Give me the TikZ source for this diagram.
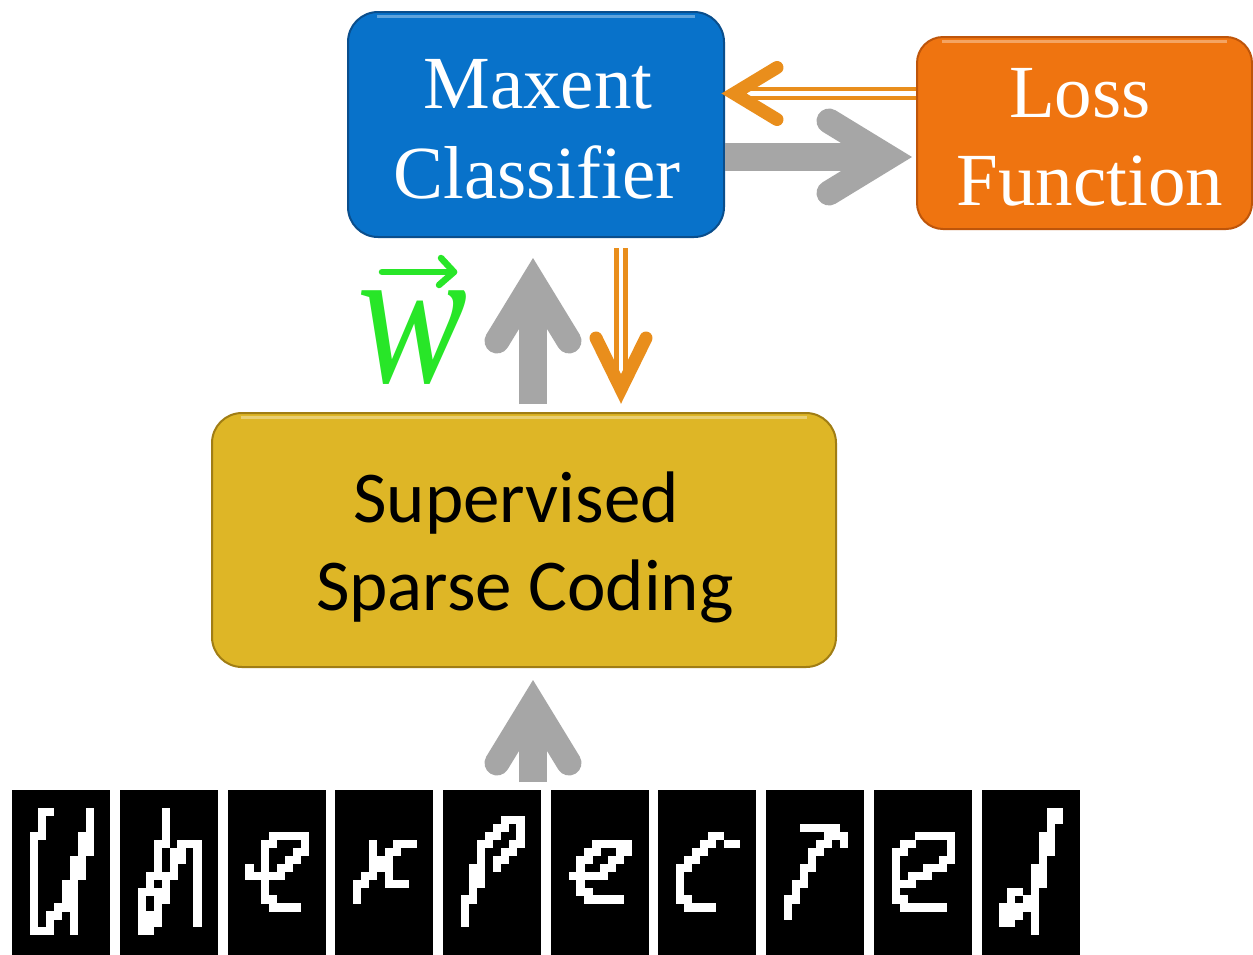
\documentclass[tikz,border=0pt]{standalone}
\usepackage{fontspec}
\usepackage{graphicx}
\usetikzlibrary{calc}
\newfontfamily\timesf{Liberation Serif}
\newfontfamily\calf{Carlito}
\definecolor{boxblue}{RGB}{8,114,202}
\definecolor{boxblueD}{RGB}{10,78,140}
\definecolor{boxorange}{RGB}{239,116,16}
\definecolor{boxorangeD}{RGB}{190,85,10}
\definecolor{boxgold}{RGB}{222,182,38}
\definecolor{boxgoldD}{RGB}{160,125,20}
\definecolor{arrgray}{RGB}{166,166,166}
\definecolor{arrorange}{RGB}{233,142,28}
\definecolor{wgreen}{RGB}{40,230,40}
\tikzset{
  procbox/.style={rectangle, rounded corners=30pt, line width=2pt, inner sep=0pt},
  letterbox/.style={rectangle, fill=black, anchor=north west, minimum width=98pt, minimum height=166pt, inner sep=0pt},
  gshaft/.style={draw=arrgray, line width=28pt},
  ghead/.style={draw=arrgray, line width=25pt, line cap=round, line join=miter},
  oshaft/.style={draw=arrorange, line width=4.5pt, double=white, double distance=4.5pt},
  ohead/.style={draw=arrorange, line width=13pt, line cap=round, line join=miter},
  vecarrow/.style={draw=wgreen, line width=6.5pt, line cap=round, line join=round},
  serifw/.style={text=white, font=\timesf\fontsize{75}{75}\selectfont, anchor=base, inner sep=0pt},
  sansb/.style={text=black, font=\calf\fontsize{73}{73}\selectfont, anchor=base, inner sep=0pt},
}
\newcommand\glyph[2]{%
  \foreach \grw [count=\gr from 0] in {#2} {
    \foreach \gc in \grw {
      \ifnum\gc<8
        \fill[white] ({30+107.7*#1+7.95*\gc},{808+7.95*\gr}) rectangle ++(8.15,8.15);
      \fi
    }
  }%
}
\begin{document}
\begin{tikzpicture}[x=1pt,y=-1pt]
\useasboundingbox (0,0) rectangle (1253,954);
\fill[white] (0,0) rectangle (1253,954);

% boxes
\node[procbox, fill=boxblue, draw=boxblueD, minimum width=376pt, minimum height=225pt] (maxent) at (536,124.5) {};
\node[procbox, fill=boxorange, draw=boxorangeD, rounded corners=26pt, minimum width=335pt, minimum height=192pt] (loss) at (1084.5,133) {};
\node[procbox, fill=boxgold, draw=boxgoldD, minimum width=624pt, minimum height=254pt] (sparse) at (524,540) {};

% top highlights
\draw[white, opacity=0.35, line width=3pt] ($(maxent.north west)+(30,5)$) -- ($(maxent.north east)+(-30,5)$);
\draw[white, opacity=0.35, line width=3pt] ($(loss.north west)+(26,5)$) -- ($(loss.north east)+(-26,5)$);
\draw[white, opacity=0.35, line width=3pt] ($(sparse.north west)+(30,5)$) -- ($(sparse.north east)+(-30,5)$);

% texts
\node[serifw] (t1) at (538,108) {Maxent};
\node[serifw] (t2) at (537,198) {Classifier};
\node[serifw] (t3) at (1080,117) {Loss};
\node[serifw] (t4) at (1090,205) {Function};
\node[sansb] (t5) at (516,522) {Supervised};
\node[sansb] (t6) at (525,610) {Sparse Coding};

% weight vector label
\node[anchor=base, text=wgreen, inner sep=0pt] (wvec) at (413,382) {\scalebox{16.5}[20]{\timesf\itshape w}};
\coordinate (wa) at ($(wvec.north)+(-31,-18)$);
\coordinate (wb) at ($(wvec.north)+(41,-18)$);
\draw[vecarrow] (wa) -- (wb);
\draw[vecarrow] ($(wb)+(-13,-14)$) -- (wb) -- ($(wb)+(-15,13)$);

% gray arrow maxent -> loss
\coordinate (gR) at ($(loss.west)+(-4,24)$);
\draw[gshaft] (maxent.east |- gR) -- ($(gR)+(-24,0)$);
\draw[ghead] ($(gR)+(-83,-36)$) -- ($(gR)+(-24,0)$) -- ($(gR)+(-83,36)$);

% orange arrow loss -> maxent
\coordinate (oL) at ($(maxent.east)+(-4,-31)$);
\draw[oshaft] (loss.west |- oL) -- ($(oL)+(12,0)$);
\draw[ohead] ($(oL)+(56,-26)$) -- ($(oL)+(13,0)$) -- ($(oL)+(56,26)$);

% orange arrow maxent -> sparse
\coordinate (oDs) at ($(maxent.south)+(85,10)$);
\coordinate (oD) at ($(sparse.north -| oDs)+(0,-8)$);
\draw[oshaft] (oDs) -- ($(oD)+(0,-14)$);
\draw[ohead] ($(oD)+(-25,-66)$) -- ($(oD)+(0,-15)$) -- ($(oD)+(25,-66)$);

% gray arrow sparse -> maxent
\coordinate (gU) at ($(maxent.south)+(-3,20)$);
\draw[gshaft] ($(sparse.north -| gU)+(0,-8)$) -- ($(gU)+(0,24)$);
\draw[ghead] ($(gU)+(-36,83)$) -- ($(gU)+(0,24)$) -- ($(gU)+(36,83)$);

% letter strip
\foreach \i in {0,...,9} {
  \node[letterbox] (c\i) at ({12+107.7*\i},790) {};
}

% gray arrow strip -> sparse
\coordinate (gB) at ($(sparse.south)+(9,12)$);
\draw[gshaft] ($(gB |- c4.north)+(0,-8)$) -- ($(gB)+(0,24)$);
\draw[ghead] ($(gB)+(-36,83)$) -- ($(gB)+(0,24)$) -- ($(gB)+(36,83)$);

% u
\glyph{0}{{1,2,7},{1,7},{1,7},{0,1,6,7},{0,6,7},{0,6,7},{0,5,6},{0,5,6},{0,5,6},{0,4,5},{0,4,5},{0,4,5},{0,3,4,5},{0,2,3,5},{0,2,5},{0,1,2,5}}
% n
\glyph{1}{{3},{3},{3},{3},{2,3,5,6,7},{2,4,5,7},{2,4,5,7},{2,4,7},{1,2,3,4,7},{1,3,7},{0,1,2,3,7},{0,2,3,7},{0,2,7},{0,1,2,7},{0,1,2,7},{0,1}}
% e
\glyph{2}{{9},{9},{9},{3,4,5,6,7},{2,3,7},{2,6,7},{2,5,6},{0,2,4,5},{0,1,2,3,4},{2},{2},{2,3},{3,4,5,6},{9},{9},{9}}
% x
\glyph{3}{{9},{9},{9},{9},{2,5,6,7},{2,4,5},{2,3,4},{2,3,4},{1,2,4},{0,1,4,5,6},{0},{0},{9},{9},{9},{9}}
% p
\glyph{4}{{9},{5,6,7},{4,5,7},{3,4,7},{2,3,6,7},{2,5,6},{2,4,5},{1,2,4},{1,2},{1,2},{1},{0,1},{0},{0},{0},{9}}
% e
\glyph{5}{{9},{9},{9},{9},{3,4,5,6,7},{2,3,6,7},{1,2,5,6},{1,4,5},{0,1,2,3,4},{1},{1,2},{2,3,4,5,6},{9},{9},{9},{9}}
% c
\glyph{6}{{9},{9},{9},{4,5},{3,4,6,7},{2,3},{1,2},{0,1},{0},{0},{0},{0,1},{1,2,3,4},{9},{9},{9}}
% t
\glyph{7}{{9},{9},{2,3,4,5,6},{5,6,7},{4,5,7},{3,4},{3},{2,3},{2},{1,2},{1},{0,1},{0},{0},{9},{9}}
% e
\glyph{8}{{9},{9},{9},{3,4,5,6,7},{1,2,7},{0,1,7},{0,6,7},{0,4,5,6},{0,2,3,4},{0,1,2},{0},{0,1},{1,2,3,4,5,6},{9},{9},{9}}
% d
\glyph{9}{{6,7},{6,7},{6},{5,6},{5,6},{5,6},{5},{4,5},{4,5},{4,5},{1,2,4},{1,3,4},{0,1,2,3,4},{0,1,2,4},{0,1,4},{4}}
\end{tikzpicture}
\end{document}
